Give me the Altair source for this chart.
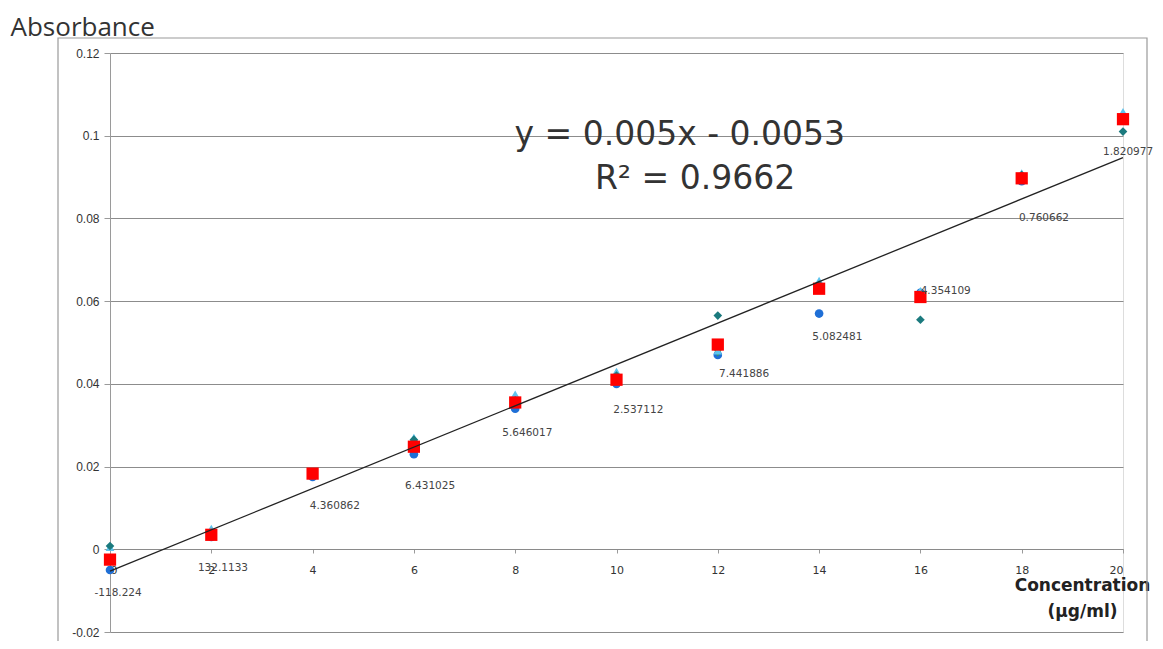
import altair as alt
import pandas as pd

# ---- data ----
conc = [0, 2, 4, 6, 8, 10, 12, 14, 16, 18, 20]
rep_blue = [-0.0050, 0.0030, 0.0175, 0.0230, 0.0340, 0.0400, 0.0470, 0.0570, 0.0620, 0.0890, 0.1045]
rep_teal = [0.0008, 0.0040, 0.0185, 0.0265, 0.0360, 0.0420, 0.0565, 0.0640, 0.0555, 0.0905, 0.1010]
rep_lblue = [0.0005, 0.0050, 0.0180, 0.0270, 0.0375, 0.0430, 0.0480, 0.0650, 0.0625, 0.0910, 0.1058]
rep_green = [-0.0030, 0.0035, 0.0178, 0.0250, 0.0350, 0.0410, 0.0475, 0.0630, 0.0610, 0.0895, 0.1040]
mean_red = [-0.0025, 0.0035, 0.0183, 0.0248, 0.0355, 0.0410, 0.0495, 0.0630, 0.0610, 0.0897, 0.1040]
label_text = ["-118.224", "132.1133", "4.360862", "6.431025", "5.646017", "2.537112",
              "7.441886", "5.082481", "4.354109", "0.760662", "1.820977"]
label_x = [0.16, 2.23, 4.44, 6.32, 8.24, 10.43, 12.52, 14.36, 16.50, 18.44, 20.10]
label_y = [-0.0106, -0.0046, 0.0104, 0.0152, 0.0281, 0.0336, 0.0423, 0.0513, 0.0624, 0.0800, 0.0960]

slope = 0.005
intercept = -0.0053
eq_text = "y = 0.005x - 0.0053"
r2_text = "R² = 0.9662"
y_ticks = [-0.02, 0, 0.02, 0.04, 0.06, 0.08, 0.1, 0.12]
x_ticks = [0, 2, 4, 6, 8, 10, 12, 14, 16, 18, 20]

series_names = ["rep1", "rep2", "rep3", "rep4"]
series_vals = [rep_blue, rep_green, rep_lblue, rep_teal]
series_colors = ["#1f6fd6", "#3aa655", "#5ec4ee", "#1b7a7e"]
series_shapes = ["circle", "triangle-down", "triangle-up", "diamond"]

rows = []
for name, vals in zip(series_names, series_vals):
    for c, v in zip(conc, vals):
        rows.append({"conc": c, "abs": v, "series": name})
reps = pd.DataFrame(rows)
means = pd.DataFrame({"conc": conc, "abs": mean_red})
labels = pd.DataFrame({"lx": label_x, "ly": label_y, "txt": label_text})
trend = pd.DataFrame({"conc": [conc[0], conc[-1]]})

X = alt.X("conc:Q",
          scale=alt.Scale(domain=[0, 20], nice=False, zero=False),
          axis=alt.Axis(values=x_ticks, offset=-83, grid=False,
                        domainColor="#8a8a8a", tickColor="#9a9a9a", tickSize=4,
                        labelPadding=11, labelFont="DejaVu Sans", labelFontSize=11,
                        labelColor="#333333",
                        title=["Concentration", "(µg/ml)"], titleFont="DejaVu Sans",
                        titleFontSize=17, titleFontWeight=600, titleColor="#222222",
                        titleAlign="center", titleAnchor="start", titleX=972, titleY=41,
                        titleBaseline="alphabetic", titleLineHeight=26))
Y = alt.Y("abs:Q",
          scale=alt.Scale(domain=[-0.02, 0.12], nice=False, zero=False),
          axis=alt.Axis(values=y_ticks, labelExpr="'' + datum.value",
                        grid=True, gridColor="#8c8c8c", gridWidth=1,
                        domainColor="#9a9a9a", tickColor="#9a9a9a", tickSize=6,
                        labelPadding=5, labelFont="Liberation Sans", labelFontSize=12,
                        labelColor="#333333",
                        title="Absorbance", titleAngle=0, titleAlign="left",
                        titleBaseline="alphabetic", titleX=-100, titleY=-18,
                        titleFont="Open Sans", titleFontSize=26,
                        titleFontWeight="normal", titleColor="#333333"))

rep_layer = alt.Chart(reps).mark_point(filled=True, size=75, opacity=1).encode(
    x=X, y=Y,
    color=alt.Color("series:N", scale=alt.Scale(domain=series_names, range=series_colors), legend=None),
    shape=alt.Shape("series:N", scale=alt.Scale(domain=series_names, range=series_shapes), legend=None),
)

mean_layer = alt.Chart(means).mark_square(filled=True, size=150, color="#ff0000", opacity=1).encode(
    x="conc:Q", y="abs:Q")

trend_layer = alt.Chart(trend).transform_calculate(
    fit=f"{slope} * datum.conc + ({intercept})"
).mark_line(color="#222222", strokeWidth=1.3).encode(x="conc:Q", y="fit:Q")

label_layer = alt.Chart(labels).mark_text(
    font="DejaVu Sans", fontSize=10.5, color="#444444", align="center", baseline="middle"
).encode(x="lx:Q", y="ly:Q", text="txt:N")

eq_layer = alt.Chart(pd.DataFrame({"t": [eq_text]})).mark_text(
    font="DejaVu Sans", fontSize=33, color="#333333", align="center", baseline="alphabetic"
).encode(x=alt.datum(11.25), y=alt.datum(0.0977), text="t:N")

r2_layer = alt.Chart(pd.DataFrame({"t": [r2_text]})).mark_text(
    font="DejaVu Sans", fontSize=33, color="#333333", align="center", baseline="alphabetic"
).encode(x=alt.datum(11.55), y=alt.datum(0.0871), text="t:N")

frame = alt.Chart(pd.DataFrame({"a": [0]})).mark_rect(
    fill=None, stroke="#9a9a9a", strokeWidth=1.2, clip=False
).encode(x=alt.value(-52), x2=alt.value(1037), y=alt.value(-15), y2=alt.value(640))

chart = alt.layer(frame, rep_layer, mean_layer, trend_layer, label_layer, eq_layer, r2_layer).properties(
    width=1013, height=579,
    autosize=alt.AutoSizeParams(type="none"),
    padding={"left": 102, "top": 45, "right": 32, "bottom": 9},
).configure_view(stroke=None).configure(background="white")

chart.save("out.html", embed_options={"renderer": "svg", "actions": False})
